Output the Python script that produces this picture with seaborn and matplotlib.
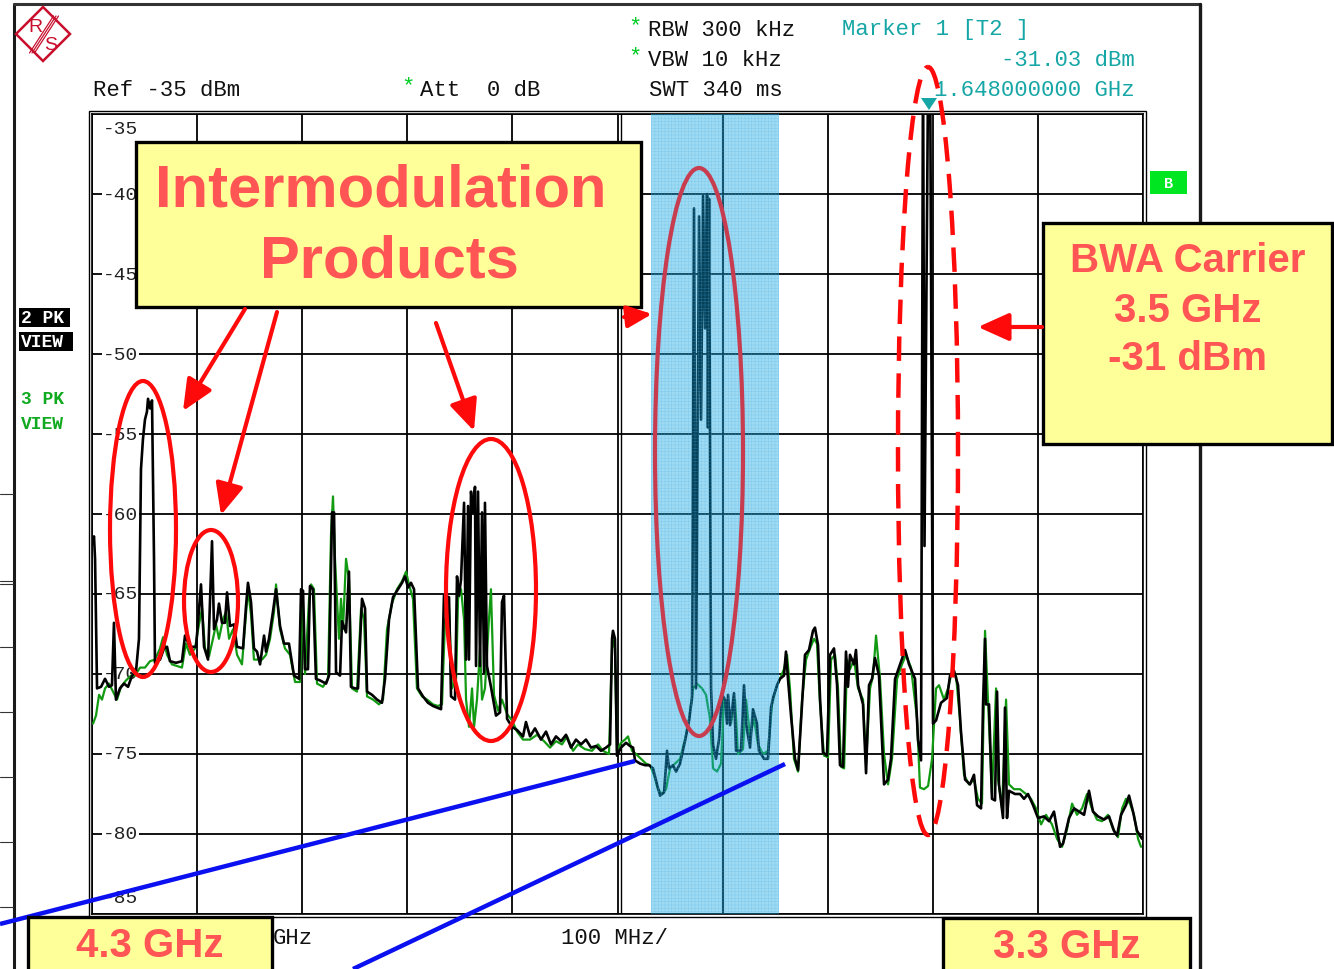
import numpy as np
import pandas as pd
import seaborn as sns
import matplotlib.pyplot as plt
from matplotlib.patches import Ellipse, Rectangle, Polygon, FancyArrowPatch
from matplotlib.transforms import blended_transform_factory

W, H = 1334, 970

# trace 2 (black, max hold): frequency in MHz, level in dBm
trace2_mhz = [
    4300.0, 4298.1, 4297.1, 4295.2, 4291.4, 4287.6, 4283.8, 4281.0, 4279.1, 4277.2,
    4273.4, 4269.6, 4265.7, 4261.9, 4258.1, 4255.3, 4253.4, 4251.5, 4249.6, 4247.7,
    4246.7, 4244.8, 4242.9, 4241.0, 4240.1, 4235.3, 4231.5, 4228.6, 4225.8, 4220.1,
    4214.4, 4211.5, 4206.8, 4201.0, 4196.3, 4193.4, 4189.6, 4185.8, 4183.9, 4181.1,
    4179.2, 4176.3, 4173.5, 4171.5, 4168.7, 4164.9, 4162.0, 4156.3, 4153.5, 4151.6,
    4148.7, 4145.9, 4143.0, 4140.1, 4136.3, 4134.4, 4131.6, 4127.8, 4124.9, 4121.1,
    4117.3, 4112.6, 4107.8, 4103.0, 4101.1, 4099.2, 4097.3, 4094.5, 4092.6, 4089.7,
    4086.9, 4083.1, 4077.3, 4074.5, 4071.6, 4069.7, 4067.8, 4064.0, 4062.1, 4058.3,
    4055.5, 4053.6, 4049.8, 4046.9, 4043.1, 4040.2, 4038.3, 4033.6, 4028.8, 4024.1,
    4021.2, 4017.4, 4013.6, 4008.8, 4005.0, 4002.2, 3999.3, 3996.5, 3993.6, 3989.8,
    3985.1, 3980.3, 3975.5, 3971.7, 3967.9, 3965.1, 3960.3, 3958.4, 3954.6, 3952.7,
    3950.8, 3948.9, 3946.0, 3944.1, 3942.2, 3941.3, 3939.4, 3937.5, 3935.6, 3934.6,
    3932.7, 3930.8, 3928.9, 3927.0, 3926.1, 3924.2, 3920.4, 3915.6, 3911.8, 3909.9,
    3908.0, 3905.1, 3900.4, 3895.6, 3889.9, 3887.1, 3883.2, 3878.5, 3872.8, 3868.0,
    3863.3, 3858.5, 3853.7, 3849.0, 3844.2, 3839.5, 3834.7, 3830.0, 3825.2, 3820.4,
    3815.7, 3810.9, 3807.1, 3805.2, 3804.3, 3802.4, 3800.5, 3796.7, 3791.9, 3788.1,
    3785.2, 3783.3, 3778.6, 3773.8, 3770.0, 3766.2, 3762.4, 3759.5, 3755.7, 3752.9,
    3751.0, 3747.2, 3744.3, 3740.5, 3735.8, 3731.9, 3729.1, 3727.2, 3725.3, 3722.4,
    3720.5, 3718.6, 3716.7, 3714.8, 3713.9, 3712.9, 3711.0, 3709.1, 3706.3, 3703.4,
    3700.6, 3697.7, 3695.8, 3694.8, 3692.9, 3689.1, 3687.2, 3682.5, 3679.6, 3677.7,
    3673.9, 3671.1, 3667.3, 3665.4, 3660.6, 3656.8, 3653.9, 3652.0, 3648.2, 3645.4,
    3641.6, 3639.7, 3637.8, 3634.9, 3631.1, 3628.2, 3624.4, 3621.6, 3617.8, 3614.0,
    3612.1, 3609.2, 3607.3, 3604.5, 3600.7, 3597.8, 3594.0, 3591.1, 3588.3, 3585.4,
    3582.6, 3580.7, 3578.8, 3575.0, 3573.1, 3571.1, 3566.4, 3563.5, 3560.7, 3557.8,
    3555.0, 3551.2, 3548.3, 3546.4, 3542.6, 3539.8, 3535.9, 3531.2, 3526.4, 3522.6,
    3516.9, 3514.1, 3511.2, 3509.3, 3507.9, 3504.3, 3502.6, 3499.8, 3496.9, 3492.2,
    3486.5, 3483.6, 3479.8, 3476.0, 3473.2, 3469.3, 3464.6, 3460.8, 3457.9, 3454.1,
    3452.2, 3450.3, 3449.4, 3446.5, 3443.7, 3440.8, 3438.9, 3437.0, 3433.2, 3431.3,
    3429.4, 3427.5, 3421.8, 3417.0, 3413.2, 3409.4, 3404.6, 3399.9, 3394.2, 3389.4,
    3384.7, 3378.9, 3376.1, 3370.4, 3365.6, 3360.9, 3356.1, 3351.4, 3347.6, 3342.8,
    3337.1, 3332.3, 3327.6, 3324.7, 3320.9, 3316.2, 3313.3, 3309.5, 3305.7, 3302.8,
    3300.9]
trace2_dbm = [
    -61.9, -61.4, -62.8, -70.9, -70.8, -70.3, -70.8, -70.7, -66.8, -71.6,
    -70.9, -70.6, -70.8, -70.1, -69.8, -67.8, -57.2, -55.3, -54.1, -53.6,
    -52.8, -53.4, -52.9, -62.8, -69.3, -69.1, -68.4, -68.3, -69.2, -69.3,
    -69.2, -67.6, -68.3, -68.3, -64.4, -68.3, -69.1, -61.7, -67.2, -66.6,
    -65.6, -66.8, -66.8, -64.9, -67.0, -66.9, -68.3, -68.4, -65.8, -64.3,
    -65.5, -68.4, -68.6, -69.4, -67.6, -68.6, -67.8, -66.1, -64.7, -67.0,
    -68.1, -68.1, -70.1, -70.3, -64.7, -64.8, -69.7, -69.7, -64.5, -64.7,
    -70.3, -70.4, -70.6, -70.1, -59.9, -59.9, -69.9, -70.1, -66.7, -67.4,
    -63.6, -70.8, -70.9, -70.9, -65.3, -65.9, -71.1, -71.3, -71.6, -71.8,
    -70.3, -66.6, -65.2, -64.7, -64.3, -63.9, -64.6, -64.3, -64.7, -70.9,
    -71.4, -71.8, -72.0, -72.1, -72.2, -65.1, -65.2, -71.4, -71.6, -63.9,
    -65.1, -64.1, -59.3, -69.1, -59.5, -69.1, -58.6, -59.9, -58.3, -69.5,
    -58.6, -69.5, -59.9, -69.9, -59.3, -69.5, -70.8, -72.6, -72.4, -65.5,
    -65.1, -72.8, -73.3, -73.5, -73.9, -73.0, -73.9, -73.4, -74.1, -73.6,
    -74.4, -73.9, -74.2, -73.8, -74.6, -74.1, -74.4, -74.1, -74.6, -74.5,
    -74.8, -74.6, -74.4, -67.8, -67.3, -67.8, -75.1, -74.6, -74.3, -74.5,
    -74.6, -75.4, -75.6, -75.7, -75.7, -75.9, -76.9, -77.6, -77.4, -74.8,
    -75.9, -75.7, -76.1, -75.6, -74.2, -72.9, -71.5, -40.9, -70.9, -41.4,
    -54.1, -40.1, -48.4, -40.0, -54.6, -40.3, -70.9, -74.4, -75.3, -74.1,
    -71.3, -71.6, -73.1, -71.3, -73.2, -71.2, -74.8, -74.8, -70.7, -73.1,
    -74.6, -72.2, -73.1, -74.8, -75.3, -75.3, -72.1, -71.5, -70.7, -70.3,
    -70.1, -68.6, -70.3, -72.6, -75.3, -76.0, -71.9, -68.8, -68.5, -67.3,
    -67.1, -68.2, -71.5, -74.9, -75.1, -68.8, -68.4, -70.7, -75.7, -75.8,
    -68.6, -70.8, -68.8, -69.4, -68.5, -70.7, -71.9, -76.2, -70.7, -70.3,
    -69.0, -70.1, -74.2, -76.9, -76.6, -75.3, -70.3, -69.4, -68.5, -69.4,
    -70.3, -74.1, -75.4, -31.0, -62.0, -31.0, -31.0, -73.1, -72.9, -71.8,
    -71.5, -70.1, -69.8, -70.7, -73.6, -76.6, -76.9, -76.3, -78.2, -78.4,
    -71.9, -67.8, -71.9, -71.9, -77.8, -77.9, -71.1, -76.9, -79.0, -72.1,
    -79.0, -77.3, -77.5, -77.5, -77.8, -77.5, -78.2, -79.0, -78.9, -79.2,
    -78.6, -80.8, -80.6, -79.0, -78.4, -78.6, -78.8, -77.3, -78.6, -78.9,
    -79.1, -78.9, -79.8, -80.1, -78.8, -78.2, -77.6, -78.6, -79.8, -80.1,
    -80.3]

# trace 3 (green, max hold)
trace3_mhz = [
    4299.0, 4296.2, 4293.3, 4290.5, 4287.6, 4283.8, 4280.0, 4276.2, 4272.4, 4267.6,
    4262.9, 4259.1, 4254.3, 4249.6, 4244.8, 4240.1, 4235.3, 4232.4, 4228.6, 4223.9,
    4219.1, 4214.4, 4210.6, 4206.8, 4202.0, 4198.2, 4195.3, 4192.5, 4188.7, 4184.9,
    4182.0, 4179.2, 4175.4, 4172.5, 4169.6, 4165.8, 4162.0, 4157.3, 4153.5, 4151.6,
    4148.7, 4145.9, 4142.1, 4138.2, 4134.4, 4130.6, 4126.8, 4124.9, 4121.1, 4116.4,
    4111.6, 4106.8, 4102.1, 4100.2, 4097.3, 4093.5, 4091.6, 4088.8, 4085.9, 4080.2,
    4075.4, 4072.6, 4070.7, 4068.8, 4065.0, 4063.1, 4061.2, 4058.3, 4055.5, 4052.6,
    4047.9, 4044.0, 4041.2, 4038.3, 4032.6, 4026.9, 4023.1, 4019.3, 4014.6, 4009.8,
    4005.0, 4001.2, 3998.4, 3994.6, 3990.8, 3986.0, 3981.2, 3975.5, 3970.8, 3967.0,
    3964.1, 3960.3, 3957.5, 3953.6, 3951.7, 3948.9, 3946.0, 3944.1, 3941.3, 3938.4,
    3936.5, 3933.7, 3930.8, 3928.9, 3926.1, 3922.3, 3920.4, 3917.5, 3913.7, 3909.9,
    3905.1, 3900.4, 3895.6, 3889.9, 3883.2, 3876.6, 3869.9, 3864.2, 3858.5, 3852.8,
    3848.0, 3842.3, 3837.6, 3830.9, 3824.3, 3818.5, 3813.8, 3808.1, 3805.2, 3804.3,
    3802.4, 3800.5, 3796.7, 3792.9, 3790.0, 3786.2, 3782.4, 3777.6, 3772.9, 3769.1,
    3765.3, 3761.5, 3757.6, 3753.8, 3750.0, 3745.3, 3740.5, 3735.8, 3731.9, 3728.1,
    3724.4, 3719.6, 3715.8, 3712.0, 3709.1, 3705.3, 3701.5, 3698.7, 3694.8, 3692.0,
    3688.2, 3685.3, 3680.6, 3677.7, 3673.9, 3670.1, 3666.3, 3661.6, 3656.8, 3653.0,
    3649.2, 3645.4, 3641.6, 3638.7, 3635.9, 3632.1, 3628.2, 3624.4, 3620.6, 3616.8,
    3613.0, 3610.2, 3607.3, 3603.5, 3599.7, 3596.8, 3593.0, 3590.2, 3587.3, 3584.4,
    3581.6, 3578.8, 3575.0, 3571.1, 3566.4, 3563.5, 3559.7, 3556.9, 3554.0, 3550.2,
    3546.4, 3542.6, 3538.8, 3534.0, 3529.3, 3525.5, 3520.7, 3515.0, 3512.2, 3508.4,
    3504.5, 3500.7, 3496.9, 3494.1, 3489.3, 3485.5, 3481.7, 3477.9, 3474.2, 3470.3,
    3465.6, 3460.8, 3457.0, 3453.2, 3450.3, 3447.5, 3443.7, 3439.8, 3437.9, 3434.1,
    3430.3, 3427.5, 3422.7, 3417.0, 3411.3, 3406.6, 3401.8, 3397.0, 3392.3, 3386.6,
    3381.8, 3377.0, 3372.3, 3367.5, 3362.8, 3358.0, 3353.3, 3348.6, 3343.8, 3339.0,
    3333.3, 3328.5, 3323.8, 3319.9, 3316.2, 3312.4, 3308.6, 3304.7, 3301.9]
trace3_dbm = [
    -73.1, -72.6, -71.3, -71.6, -70.9, -70.6, -71.1, -71.6, -70.8, -70.4,
    -70.1, -70.1, -69.6, -69.6, -69.2, -69.1, -68.4, -67.7, -68.8, -69.4,
    -69.5, -69.6, -68.1, -68.8, -68.4, -66.9, -65.9, -68.4, -68.9, -67.8,
    -66.9, -67.8, -66.6, -66.1, -67.8, -67.2, -68.8, -69.4, -66.3, -64.7,
    -66.3, -69.1, -69.1, -69.1, -68.8, -67.8, -66.1, -64.4, -67.2, -68.4,
    -68.8, -70.5, -70.5, -65.3, -70.0, -65.3, -64.4, -64.7, -70.6, -70.8,
    -70.3, -61.3, -58.9, -62.8, -67.8, -65.3, -67.2, -62.8, -64.1, -70.9,
    -71.1, -65.9, -66.6, -71.4, -71.6, -71.9, -71.6, -67.2, -65.6, -64.7,
    -64.2, -63.6, -64.4, -65.3, -70.9, -71.4, -71.6, -71.9, -72.0, -71.9,
    -66.6, -65.9, -70.9, -70.3, -65.3, -64.7, -66.6, -71.6, -73.3, -70.9,
    -73.3, -71.6, -68.4, -71.6, -70.9, -66.6, -64.7, -71.3, -72.3, -71.6,
    -72.5, -72.9, -73.6, -74.1, -74.1, -73.8, -74.2, -74.6, -74.2, -74.4,
    -73.9, -74.8, -74.4, -74.7, -74.8, -74.4, -74.8, -75.0, -68.4, -67.8,
    -68.4, -74.8, -74.3, -74.1, -73.9, -74.8, -75.0, -75.3, -75.6, -75.7,
    -76.3, -77.2, -77.5, -77.2, -75.9, -75.6, -75.3, -74.1, -72.8, -70.9,
    -70.6, -70.9, -71.3, -72.8, -75.9, -76.1, -75.6, -71.6, -71.9, -73.1,
    -71.6, -75.0, -74.7, -71.6, -73.9, -72.8, -74.4, -75.0, -74.8, -71.9,
    -70.9, -70.3, -69.7, -68.8, -70.9, -75.3, -76.1, -71.6, -69.1, -68.4,
    -67.8, -68.1, -71.9, -75.1, -75.2, -69.1, -68.8, -70.9, -75.8, -75.9,
    -69.1, -69.7, -69.1, -70.9, -71.6, -75.6, -70.9, -70.1, -67.6, -70.3,
    -75.0, -76.9, -75.3, -70.3, -69.4, -68.8, -69.6, -72.8, -77.1, -77.2,
    -77.0, -75.3, -70.9, -70.7, -71.6, -70.9, -69.8, -70.1, -72.8, -76.3,
    -76.9, -76.6, -77.8, -78.1, -67.3, -71.6, -77.5, -70.9, -76.6, -78.4,
    -71.6, -76.9, -77.2, -77.2, -77.5, -77.8, -78.4, -79.4, -78.8, -79.4,
    -80.3, -80.8, -79.7, -78.1, -78.8, -78.4, -77.5, -78.4, -79.1, -79.2,
    -78.8, -79.7, -80.2, -78.4, -77.8, -78.1, -78.8, -80.3, -80.8]

y_ticks = [-35, -40, -45, -50, -55, -60, -65, -70, -75, -80, -85]
y_tick_labels = ['-35', '-40', '-45', '-50', '-55', '-60', '-65', '-70', '-75', '-80', '-85']
x_grid_mhz = [3300, 3400, 3500, 3600, 3700, 3800, 3900, 4000, 4100, 4200, 4300]
band_mhz = (3646, 3768)  # highlighted band

sns.set_style('white')
plt.rcParams['font.family'] = ['Liberation Mono', 'DejaVu Sans Mono']
plt.rcParams['hatch.linewidth'] = 0.4

fig = plt.figure(figsize=(W / 100, H / 100), dpi=100)
ax = fig.add_axes([92 / W, 1 - 915 / H, 1051 / W, 800 / H])

df3 = pd.DataFrame({'freq_mhz': trace3_mhz, 'level_dbm': trace3_dbm})
df2 = pd.DataFrame({'freq_mhz': trace2_mhz, 'level_dbm': trace2_dbm})
sns.lineplot(data=df3, x='freq_mhz', y='level_dbm', ax=ax, color='#139a13', lw=1.6,
             estimator=None, sort=False, zorder=3)
sns.lineplot(data=df2, x='freq_mhz', y='level_dbm', ax=ax, color='black', lw=1.9,
             estimator=None, sort=False, zorder=4)

ax.axvspan(*band_mhz, facecolor=(0.05, 0.64, 0.87), alpha=0.4, lw=0, zorder=6)
ax.axvspan(*band_mhz, facecolor='none', edgecolor=(0.3, 0.7, 0.92, 0.35), hatch='+++++', lw=0, zorder=6)

ax.set_xlim(4300, 3300)
ax.set_ylim(-85, -35)
ax.set_xticks(x_grid_mhz)
ax.set_yticks(y_ticks)
ax.set_axisbelow(True)
ax.grid(True, color='black', lw=1.3)
ax.axvline(3797.0, color='black', lw=1.0, zorder=0.6)
ax.tick_params(length=0, labelleft=False, labelbottom=False)
ax.set_xlabel('')
ax.set_ylabel('')
for sp in ax.spines.values():
    sp.set_color('black')
    sp.set_linewidth(1.2)

trans = blended_transform_factory(ax.transAxes, ax.transData)
for val, lab in zip(y_ticks, y_tick_labels):
    yy = val
    if val == -35:
        yy = -35.9
    elif val == -85:
        yy = -84.0
    ax.text(0.0105, yy, lab, transform=trans, ha='left', va='center', fontsize=14,
            color='#222222', bbox=dict(fc='white', ec='none', pad=0.6), zorder=2)

# overlay in pixel coordinates for the screen frame and annotations
ov = fig.add_axes([0, 0, 1, 1], zorder=10)
ov.set_xlim(0, W)
ov.set_ylim(H, 0)
ov.axis('off')
ov.patch.set_alpha(0)

# screen frame
ov.plot([14, 14], [5, H], color='#1a1a1a', lw=2.2, zorder=1)
ov.plot([14, 1200], [5, 5], color='#333333', lw=2.2, zorder=1)
ov.plot([1200, 1200], [5, H], color='#1a1a1a', lw=2.4, zorder=1)
for yl in [495, 582, 585, 648, 713, 778, 843, 908]:
    ov.plot([0, 13], [yl, yl], color='#333333', lw=0.8, zorder=1)
ov.add_patch(Rectangle((89, 112), 1057, 806, fill=False, ec='black', lw=1.0, zorder=1))

# R&S logo
logo_c = '#c8102e'
ov.add_patch(Polygon([(43, 8), (70, 35), (43, 62), (16, 35)], closed=True, fill=False,
                     ec=logo_c, lw=1.8, zorder=2))
for off in (-2.5, 0, 2.5):
    ov.plot([56 + off, 32 + off], [17, 54], color=logo_c, lw=0.9, zorder=2)
ov.text(35, 27, 'R', color=logo_c, fontsize=14, family='Liberation Sans', ha='center', va='center')
ov.text(51, 45, 'S', color=logo_c, fontsize=14, family='Liberation Sans', ha='center', va='center')

# header text
hdr = 16
green_star = '#00cc22'
teal = '#17a6a6'
ov.text(642, 27, '*', color=green_star, fontsize=hdr, ha='right', va='center')
ov.text(648, 30, 'RBW 300 kHz', fontsize=hdr, ha='left', va='center', color='#111111')
ov.text(642, 57, '*', color=green_star, fontsize=hdr, ha='right', va='center')
ov.text(648, 60, 'VBW 10 kHz', fontsize=hdr, ha='left', va='center', color='#111111')
ov.text(649, 90, 'SWT 340 ms', fontsize=hdr, ha='left', va='center', color='#111111')
ov.text(93, 90, 'Ref -35 dBm', fontsize=hdr, ha='left', va='center', color='#111111')
ov.text(415, 87, '*', color=green_star, fontsize=hdr, ha='right', va='center')
ov.text(420, 90, 'Att  0 dB', fontsize=hdr, ha='left', va='center', color='#111111')
ov.text(842, 30, 'Marker 1 [T2 ]', fontsize=hdr, ha='left', va='center', color=teal)
ov.text(1135, 60, '-31.03 dBm', fontsize=hdr, ha='right', va='center', color=teal)
ov.text(1135, 90, '1.648000000 GHz', fontsize=hdr, ha='right', va='center', color=teal)
ov.add_patch(Polygon([(921, 99), (937, 99), (929, 111)], closed=True, fc=teal, ec='none', zorder=3))
ov.text(273, 939, 'GHz', fontsize=hdr, ha='left', va='center', color='#111111')
ov.text(561, 939, '100 MHz/', fontsize=hdr, ha='left', va='center', color='#111111')

# trace labels on the left
ov.add_patch(Rectangle((19, 309), 51, 19, fc='black', ec='none', zorder=2))
ov.add_patch(Rectangle((19, 333), 54, 19, fc='black', ec='none', zorder=2))
ov.text(21, 319, '2 PK', color='white', fontsize=13, weight='bold', ha='left', va='center', zorder=3)
ov.text(21, 343, 'VIEW', color='white', fontsize=13, weight='bold', ha='left', va='center', zorder=3)
ov.text(21, 400, '3 PK', color='#10aa20', fontsize=13, weight='bold', ha='left', va='center')
ov.text(21, 425, 'VIEW', color='#10aa20', fontsize=13, weight='bold', ha='left', va='center')
ov.add_patch(Rectangle((1150, 172), 37, 23, fc='#00e620', ec='none', zorder=2))
ov.text(1168.5, 183.5, 'B', color='white', fontsize=11, weight='bold', ha='center', va='center', zorder=3)

# blue guide lines
ov.plot([0, 635], [925, 762], color='#0a10f0', lw=3.2, zorder=3, solid_capstyle='butt')
ov.plot([353, 785], [970, 765], color='#0a10f0', lw=3.2, zorder=3, solid_capstyle='butt')

# yellow callout boxes
box_fc = '#ffff99'
txt_c = '#ff5555'
big = dict(family='Liberation Sans', weight='bold', color=txt_c, ha='center', va='center', zorder=6)
for (x0, y0, w, h) in [(136, 143, 505, 165), (1043, 224, 289, 221), (28, 918, 244, 60), (943, 919, 247, 60)]:
    ov.add_patch(Rectangle((x0, y0), w, h, fc=box_fc, ec='black', lw=2.4, zorder=5))
ov.text(381, 191, 'Intermodulation', fontsize=43, **big)
ov.text(389, 262, 'Products', fontsize=43, **big)
ov.text(1188, 261, 'BWA Carrier', fontsize=29, **big)
ov.text(1188, 311, '3.5 GHz', fontsize=29, **big)
ov.text(1188, 359, '-31 dBm', fontsize=29, **big)
ov.text(150, 946, '4.3 GHz', fontsize=29, **big)
ov.text(1067, 947, '3.3 GHz', fontsize=29, **big)

# red ellipses
red = '#ff0a0a'
ov.add_patch(Ellipse((143, 530), 66, 296, fill=False, ec=red, lw=3, zorder=7))
ov.add_patch(Ellipse((211, 602), 54, 142, fill=False, ec=red, lw=3, zorder=7))
ov.add_patch(Ellipse((491, 591), 90, 302, fill=False, ec=red, lw=3, zorder=7))
ov.add_patch(Ellipse((699, 453), 88, 568, fill=False, ec='#c83c50', lw=3, zorder=7))
ov.add_patch(Ellipse((928, 452), 60, 768, fill=False, ec=red, lw=3.2,
                     linestyle=(0, (5.5, 2.8)), zorder=7))


def arrow(x0, y0, x1, y1, ms=19):
    ov.add_patch(FancyArrowPatch((x0, y0), (x1, y1), arrowstyle='-|>,head_length=1.0,head_width=0.45',
                                 mutation_scale=ms, lw=3, color=red, shrinkA=0, shrinkB=0, zorder=8))


arrow(245, 310, 183, 412)
arrow(277, 313, 221, 516)
arrow(436, 324, 474, 432)
arrow(624, 318, 652, 315, ms=15)
arrow(1042, 328, 978, 328)

fig.savefig('out.png', dpi=100)
